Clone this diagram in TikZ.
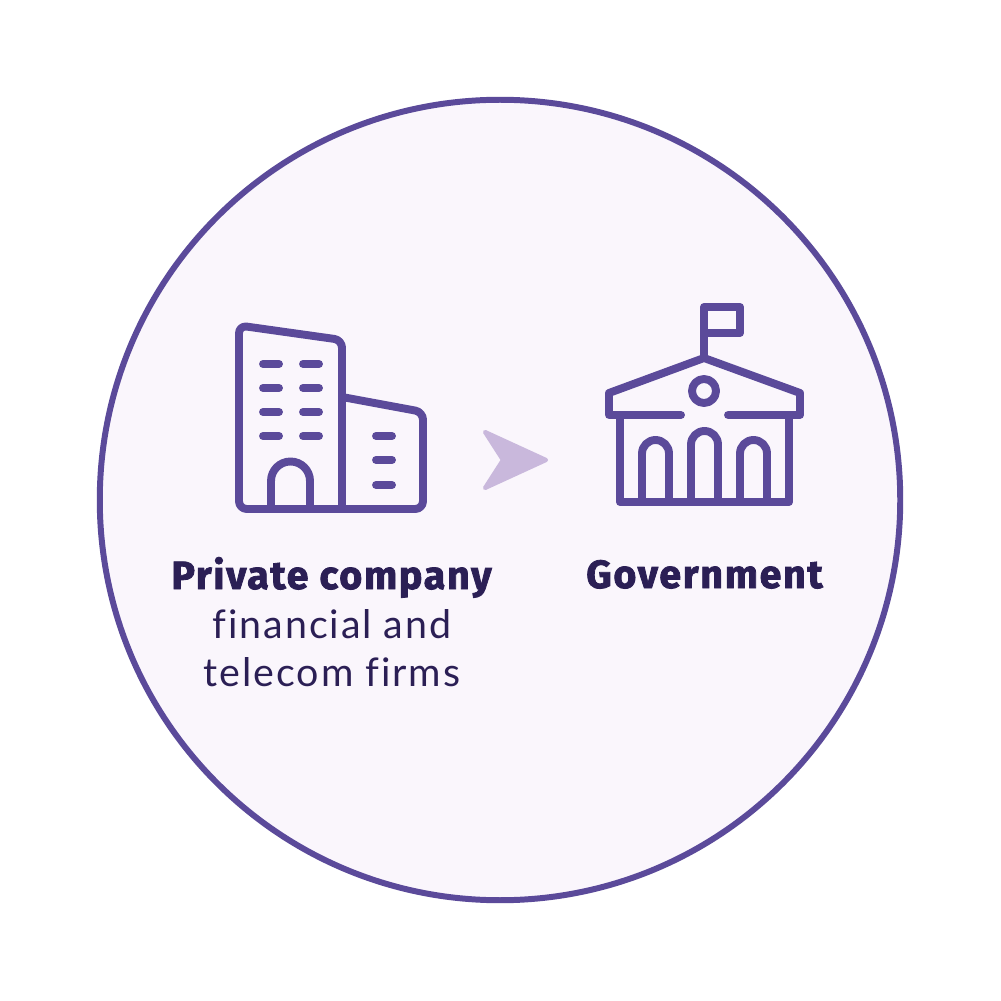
\documentclass[tikz,border=0pt]{standalone}
\usepackage{fontspec}
\setmainfont{Fira Sans}
\newfontfamily\lightf[LetterSpace=4.8,Ligatures=NoCommon]{Lato}
\newfontfamily\heavyf[FakeBold=2,LetterSpace=4.3,Ligatures=NoCommon]{Fira Sans Bold}
\definecolor{ringc}{HTML}{5B4A9A}
\definecolor{fillc}{HTML}{FAF6FC}
\definecolor{arrowc}{HTML}{C9B8DC}
\definecolor{textc}{HTML}{2B1F55}
\tikzset{
  icon/.style={draw=ringc,line width=2.25pt,line join=round,line cap=round},
  iconbar/.style={draw=ringc,line width=2.25pt,line cap=round},
  headt/.style={anchor=base,text=textc,font=\heavyf\fontsize{11.2}{13}\selectfont,inner sep=0pt},
  subt/.style={anchor=base,text=textc,font=\lightf\fontsize{11.2}{13}\selectfont,inner sep=0pt},
}
\begin{document}
\begin{tikzpicture}[x=0.01cm,y=-0.01cm]
\useasboundingbox (0,0) rectangle (1000,1001);
\fill[white] (0,0) rectangle (1000,1001);
\node[circle,draw=ringc,fill=fillc,line width=1.7pt,minimum size=8cm,inner sep=0pt] (ring) at (500,500) {};
% company building
\draw[icon,rounded corners=2.2pt] (300,509) -- (239,509) -- (239,325.5) -- (342,340) -- (342,509);
\draw[icon,rounded corners=2.2pt] (342,397) -- (423,412) -- (423,509) -- (300,509);
\foreach \yy in {364,388,412,436}{
  \draw[iconbar] (263,\yy) -- (279,\yy);
  \draw[iconbar] (303,\yy) -- (319,\yy);
}
\foreach \yy in {436,460,485}{\draw[iconbar] (376,\yy) -- (392,\yy);}
\draw[icon,line cap=butt] (271,509) -- (271,481) arc[start angle=180,end angle=360,radius=19.5] -- (310,509);
% arrow
\draw[fill=arrowc,draw=arrowc,line width=1.2pt,line join=round] (485,432) -- (546,460) -- (485,488) -- (503,460) -- cycle;
% government building
\draw[icon] (704,358) -- (704,307) -- (740,307) -- (740,333) -- (704,333);
\draw[icon] (681,415) -- (609,415) -- (609,393) -- (704,358) -- (800,393) -- (800,415) -- (728,415);
\draw[icon] (704,391) circle[radius=12];
\draw[icon] (620,415) -- (620,502) -- (789,502) -- (789,415);
\draw[icon,line cap=butt] (642,502) -- (642,453.5) arc[start angle=180,end angle=360,radius=13.5] -- (669,502);
\draw[icon,line cap=butt] (691,502) -- (691,444.5) arc[start angle=180,end angle=360,radius=13.5] -- (718,502);
\draw[icon,line cap=butt] (740,502) -- (740,453.5) arc[start angle=180,end angle=360,radius=13.5] -- (767,502);
% text
\node[headt] (priv) at (331.5,589) {Private company};
\node[subt] (fin) at (332,638) {financial and};
\node[subt] (tel) at (332,686) {telecom firms};
\node[headt] (gov) at (704.5,588) {Government};
\end{tikzpicture}
\end{document}
